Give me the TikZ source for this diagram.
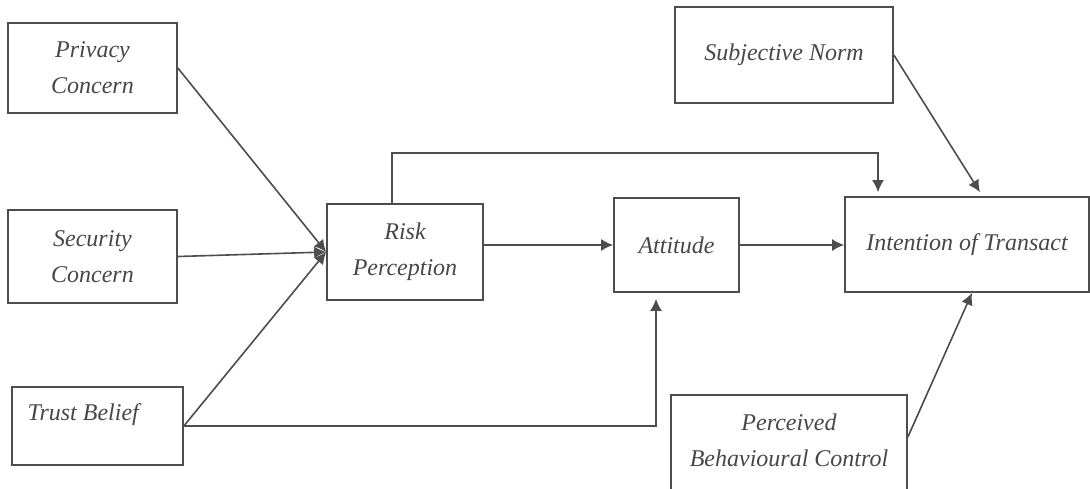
\documentclass[tikz,border=0pt]{standalone}
\usepackage{fontspec}
\setmainfont{Liberation Serif}
\usepackage{tikz}
\usetikzlibrary{arrows.meta,shapes,positioning}

\definecolor{linegray}{HTML}{4D4D4D}
\definecolor{textgray}{HTML}{474747}

\begin{document}
\begin{tikzpicture}[x=0.5pt,y=-0.5pt,
    lbl/.style={text=textgray,align=center,font=\fontsize{12}{18}\selectfont\itshape,inner sep=0pt},
    box/.style={draw=linegray,line width=0.85pt,rectangle,lbl},
    arr/.style={draw=linegray,line width=0.8pt,-{Latex[length=6pt,width=6pt]}}]
            \useasboundingbox (0,0) rectangle (1090,488);
            % left column
            \node[box,minimum width=84.5pt,minimum height=45pt] (privacy) at (92.5,68) {Privacy\\Concern};
            \node[box,minimum width=84.5pt,minimum height=46.5pt] (security) at (92.5,256.5) {Security\\Concern};
            \node[box,minimum width=85.5pt,minimum height=39pt,
                label={[lbl,anchor=west,xshift=8pt,yshift=5.5pt]west:Trust Belief}] (trust) at (97.5,426) {};
            % middle
            \node[box,minimum width=78pt,minimum height=48pt] (risk) at (405,252) {Risk\\Perception};
            \node[box,minimum width=62.5pt,minimum height=47pt] (attitude) at (676.5,245) {Attitude};
            % right column
            \node[box,minimum width=109pt,minimum height=48pt] (subj) at (784,55) {Subjective Norm};
            \node[box,minimum width=122pt,minimum height=47.5pt] (intention) at (967,244.5) {Intention of Transact};
            \node[box,minimum width=118pt,minimum height=55pt,
                label={[lbl,yshift=5pt]center:Perceived\\Behavioural Control}] (perceived) at (789,450) {};
            % arrows into risk perception
            \draw[arr] (privacy.east) -- (risk.west);
            \draw[arr] (security.east) -- (risk.west);
            \draw[arr] (trust.east) -- (risk.west);
            % main chain
            \draw[arr] (risk.east |- attitude.west) -- (attitude.west);
            \draw[arr] (attitude.east) -- (attitude.east -| intention.west);
            % risk over the top to intention
            \coordinate (riskup) at (640,153);
            \draw[arr] ([xshift=-6.5pt]risk.north) |- (riskup) -| ([xshift=-44.5pt,yshift=2pt]intention.north);
            \draw[arr] (subj.east) -- ([xshift=6.5pt,yshift=2pt]intention.north);
            % trust under to attitude
            \draw[arr] (trust.east) -| ([xshift=-10.25pt,yshift=-3pt]attitude.south);
            \draw[arr] ([yshift=6.5pt]perceived.east) -- ([xshift=2.5pt]intention.south);
        \end{tikzpicture}
\end{document}
